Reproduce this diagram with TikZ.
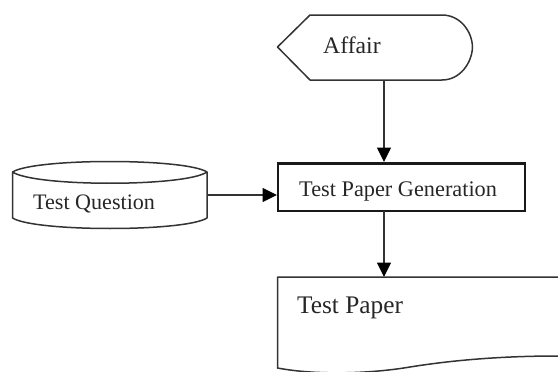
\documentclass[tikz,border=0pt]{standalone}
\usepackage{fontspec}
\setmainfont{Liberation Serif}
\usetikzlibrary{arrows.meta}
\tikzset{
  outline/.style={draw=black!80,line width=1.5pt,line join=round},
  boldbox/.style={draw=black!90,line width=2.7pt,line join=miter},
  label/.style={text=black!85,inner sep=0pt,anchor=base west},
  link/.style={draw=black!80,line width=1.5pt,-{Triangle[length=14.5pt,width=14pt,black]},shorten >=0pt}
}
\newcommand{\sized}[1]{\fontsize{#1pt}{#1pt}\selectfont}
\begin{document}
\begin{tikzpicture}[x=1pt,y=-1pt]
\useasboundingbox (0,0) rectangle (558,372);
% Affair display shape
\draw[outline] (277.5,47) -- (310,15) -- (442,15) .. controls (460,15) and (472,31) .. (472.5,47) .. controls (472,63) and (460,80) .. (442,80) -- (310,80) -- cycle;
\node[label,font=\sized{23.7}] (affair) at (323,53) {Affair};
% Test Question cylinder
\draw[outline] (12.5,172) .. controls (35,158) and (185,158) .. (207,172) .. controls (185,187) and (35,187) .. (12.5,172) -- (12.5,218) .. controls (35,232) and (185,232) .. (207,218) -- (207,172);
\node[label,font=\sized{22.1}] (question) at (33,209.5) {Test Question};
% Test Paper Generation box
\path[boldbox] (278,163.5) rectangle (525,211);
\node[label,font=\sized{22.3}] (generation) at (299,196) {Test Paper Generation};
% Test Paper document
\draw[outline] (558,277) -- (277.5,277) -- (277.5,368) .. controls (320,376) and (375,373) .. (410,367) .. controls (460,359) and (510,356) .. (558,356);
\node[label,font=\sized{25.3}] (paper) at (297,313.5) {Test Paper};
% connector ends
\coordinate (affairOut) at (384,80);
\coordinate (genTop) at (384,162);
\coordinate (genBottom) at (384,211);
\coordinate (paperTop) at (384,277);
\coordinate (questionOut) at (207,195);
\coordinate (genLeft) at (277,195);
\draw[link] (affairOut) -- (genTop);
\draw[link] (genBottom) -- (paperTop);
\draw[link] (questionOut) -- (genLeft);
\end{tikzpicture}
\end{document}
